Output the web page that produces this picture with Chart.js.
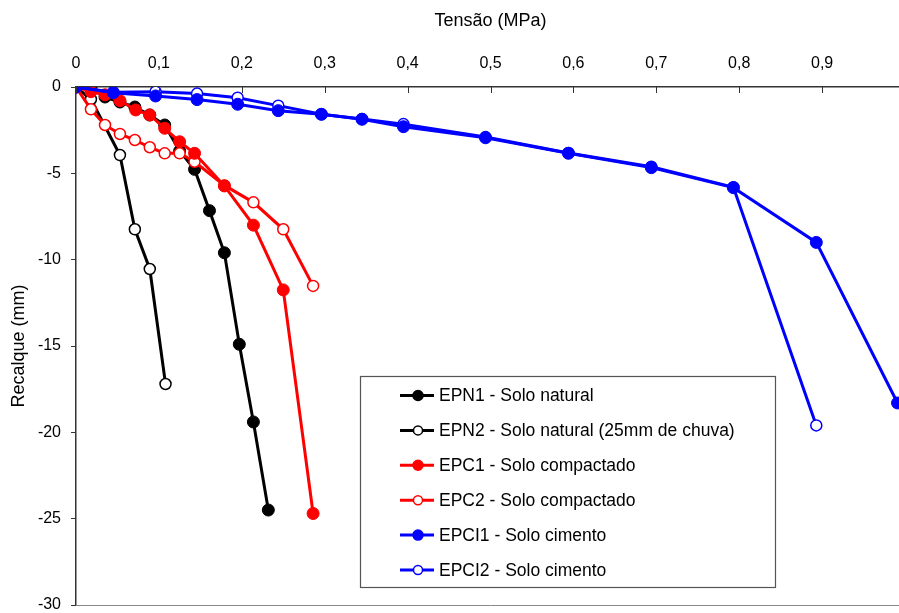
<!DOCTYPE html>
<html>
<head>
<meta charset="utf-8">
<script src="https://cdn.jsdelivr.net/npm/chart.js@4/dist/chart.umd.min.js"></script>
<style>
  html, body { margin: 0; padding: 0; background: #fff; overflow: hidden; }
  #chart { display: block; }
</style>
</head>
<body>
<canvas id="chart" width="912" height="613"></canvas>
<script>
// Tensão (MPa) x Recalque (mm) for each load test
const EPN1_X = [0, 0.018, 0.035, 0.053, 0.071, 0.089, 0.107, 0.125, 0.143, 0.161, 0.179, 0.197, 0.214, 0.232];
const EPN1_Y = [0, -0.05, -0.58, -0.87, -1.16, -1.62, -2.2, -3.7, -4.77, -7.16, -9.6, -14.9, -19.4, -24.5];

const EPN2_X = [0, 0.018, 0.053, 0.071, 0.089, 0.108];
const EPN2_Y = [0, -0.71, -3.94, -8.24, -10.54, -17.2];

const EPC1_X = [0, 0.018, 0.035, 0.053, 0.072, 0.089, 0.107, 0.125, 0.143, 0.179, 0.214, 0.250, 0.286];
const EPC1_Y = [0, -0.27, -0.45, -0.79, -1.33, -1.62, -2.39, -3.17, -3.84, -5.73, -8.0, -11.75, -24.7];

const EPC2_X = [0, 0.018, 0.035, 0.053, 0.071, 0.089, 0.107, 0.125, 0.143, 0.179, 0.214, 0.250, 0.286];
const EPC2_Y = [0, -1.29, -2.2, -2.72, -3.07, -3.49, -3.84, -3.84, -4.33, -5.7, -6.68, -8.24, -11.52];

const EPCI1_X = [0, 0.045, 0.096, 0.146, 0.195, 0.244, 0.296, 0.345, 0.395, 0.494, 0.594, 0.694, 0.793, 0.893, 0.991];
const EPCI1_Y = [0, -0.33, -0.52, -0.73, -1.0, -1.37, -1.58, -1.87, -2.3, -2.94, -3.84, -4.67, -5.83, -9.0, -18.3];

const EPCI2_X = [0, 0.045, 0.096, 0.146, 0.195, 0.244, 0.296, 0.345, 0.395, 0.494, 0.594, 0.694, 0.793, 0.893];
const EPCI2_Y = [0, -0.3, -0.27, -0.38, -0.62, -1.08, -1.58, -1.85, -2.15, -2.9, -3.82, -4.62, -5.8, -19.6];

const X_TICKS = [0, 0.1, 0.2, 0.3, 0.4, 0.5, 0.6, 0.7, 0.8, 0.9];
const Y_TICKS = [0, -5, -10, -15, -20, -25, -30];

const FONT = '"Liberation Sans", Arial, sans-serif';
const AXIS_COLOR = '#333';

function pts(xs, ys) {
  return xs.map((x, i) => ({ x, y: ys[i] }));
}

function series(label, xs, ys, color, filled, order) {
  return {
    label,
    data: pts(xs, ys),
    borderColor: color,
    borderWidth: 3,
    pointRadius: filled ? 6 : 5.5,
    pointBorderWidth: filled ? 1 : 1.5,
    pointBackgroundColor: filled ? color : '#fff',
    pointBorderColor: color,
    tension: 0,
    order,
    _filled: filled,
  };
}

const datasets = [
  series('EPN1 - Solo natural', EPN1_X, EPN1_Y, '#000000', true, 5),
  series('EPN2 - Solo natural (25mm de chuva)', EPN2_X, EPN2_Y, '#000000', false, 6),
  series('EPC1 - Solo compactado', EPC1_X, EPC1_Y, '#ff0000', true, 3),
  series('EPC2 - Solo compactado', EPC2_X, EPC2_Y, '#ff0000', false, 4),
  series('EPCI1 - Solo cimento', EPCI1_X, EPCI1_Y, '#0000ff', true, 1),
  series('EPCI2 - Solo cimento', EPCI2_X, EPCI2_Y, '#0000ff', false, 2),
];

// x tick marks point down into the plot; bottom edge gets a grey border
const frame = {
  id: 'frame',
  afterDraw(chart) {
    const { ctx, chartArea: a } = chart;
    const xs = chart.scales.x;
    ctx.save();
    ctx.strokeStyle = AXIS_COLOR;
    ctx.lineWidth = 1;
    X_TICKS.forEach(v => {
      const px = Math.round(xs.getPixelForValue(v)) + 0.5;
      ctx.beginPath();
      ctx.moveTo(px, a.top);
      ctx.lineTo(px, a.top + 6);
      ctx.stroke();
    });
    ctx.strokeStyle = '#888';
    ctx.beginPath();
    ctx.moveTo(a.left, a.bottom + 0.5);
    ctx.lineTo(a.right, a.bottom + 0.5);
    ctx.stroke();
    ctx.restore();
  }
};

// boxed legend inside the plot area
const legendBox = {
  id: 'legendBox',
  afterDraw(chart) {
    const { ctx } = chart;
    const box = { x: 360.5, y: 376.5, w: 415, h: 211 };
    ctx.save();
    ctx.fillStyle = '#fff';
    ctx.fillRect(box.x, box.y, box.w, box.h);
    ctx.strokeStyle = '#555';
    ctx.lineWidth = 1.2;
    ctx.strokeRect(box.x, box.y, box.w, box.h);
    ctx.font = '17.5px ' + FONT;
    ctx.textBaseline = 'middle';
    chart.data.datasets.forEach((ds, i) => {
      const y = 395.5 + i * 34.9;
      ctx.strokeStyle = ds.borderColor;
      ctx.lineWidth = 3;
      ctx.beginPath();
      ctx.moveTo(400, y);
      ctx.lineTo(434, y);
      ctx.stroke();
      ctx.beginPath();
      ctx.arc(418, y, ds._filled ? 5 : 4.5, 0, Math.PI * 2);
      ctx.fillStyle = ds._filled ? ds.borderColor : '#fff';
      ctx.fill();
      ctx.lineWidth = 1.5;
      ctx.stroke();
      ctx.fillStyle = '#000';
      ctx.fillText(ds.label, 439, y + 1);
    });
    ctx.restore();
  }
};

new Chart(document.getElementById('chart'), {
  type: 'line',
  data: { datasets },
  options: {
    responsive: false,
    animation: false,
    layout: { padding: { left: 0, right: 0, top: 0, bottom: 8 } },
    plugins: {
      legend: { display: false },
      tooltip: { enabled: false },
    },
    scales: {
      x: {
        type: 'linear',
        position: 'top',
        min: 0,
        max: 1,
        afterBuildTicks(scale) { scale.ticks = X_TICKS.map(v => ({ value: v })); },
        afterFit(scale) {
          scale.height = 87;
          scale.paddingLeft = 0;
          scale.paddingRight = 0;
        },
        ticks: {
          color: '#000',
          font: { family: FONT, size: 16 },
          padding: 14,
          maxRotation: 0,
          callback: v => (v === 0 ? '0' : v.toFixed(1).replace('.', ',')),
        },
        grid: { display: true, drawOnChartArea: false, drawTicks: false },
        border: { color: AXIS_COLOR, width: 1.5 },
        title: {
          display: true,
          text: 'Tensão (MPa)',
          color: '#000',
          font: { family: FONT, size: 18 },
          padding: { top: 10, bottom: 0 },
        },
      },
      y: {
        type: 'linear',
        min: -30,
        max: 0,
        afterBuildTicks(scale) { scale.ticks = Y_TICKS.map(v => ({ value: v })); },
        afterFit(scale) {
          scale.width = 76;
          scale.paddingTop = 0;
          scale.paddingBottom = 0;
        },
        ticks: {
          color: '#000',
          font: { family: FONT, size: 16 },
          padding: 10,
          callback: v => String(v),
        },
        grid: { display: true, drawOnChartArea: false, drawTicks: true, tickLength: 5, color: AXIS_COLOR },
        border: { color: AXIS_COLOR, width: 1.5 },
        title: {
          display: true,
          text: 'Recalque (mm)',
          color: '#000',
          font: { family: FONT, size: 18 },
          padding: { top: 8, bottom: 0 },
        },
      },
    },
  },
  plugins: [frame, legendBox],
});
</script>
</body>
</html>
